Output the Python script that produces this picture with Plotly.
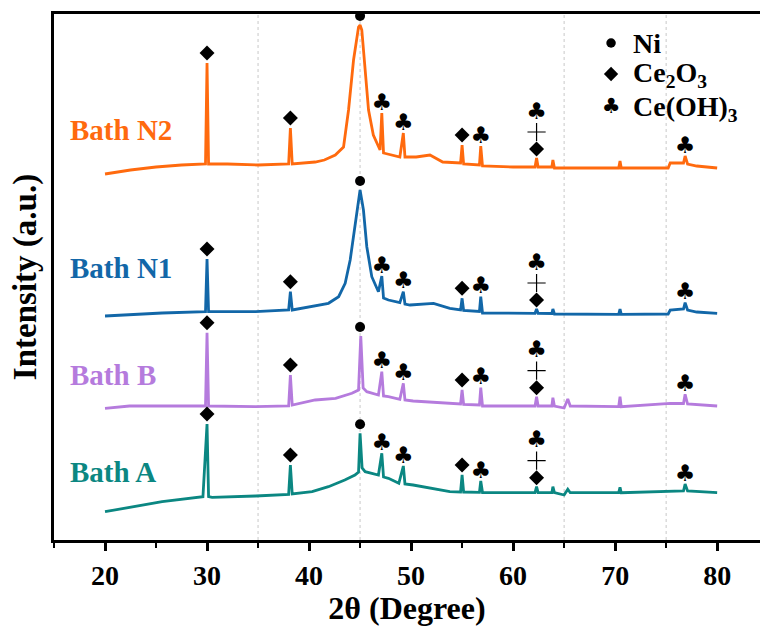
import numpy as np
import plotly.graph_objects as go

# ---------------- data (2theta in degrees, intensity in a.u., offset stacked) ----------------
x_n2 = [20, 22.5, 25, 27.5, 29.85, 30.0, 30.15, 32, 35, 38.0, 38.17, 38.35, 40.6, 41.5, 42.57,
        43.38, 43.87, 44.36, 44.85, 45.0, 45.17, 45.5, 45.83, 46.3, 46.96, 47.13, 47.3, 48.9,
        49.24, 49.4, 50.5, 51.85, 53.1, 54.85, 55.0, 55.15, 56.7, 56.83, 57.0, 60, 62.15, 62.3,
        62.45, 63.8, 63.9, 64.05, 70.35, 70.48, 70.6, 75.2, 75.4, 76.7, 76.86, 77.1, 78, 80]
y_n2 = [366, 370, 373, 375, 376, 477, 376, 376, 375, 376, 412, 376, 378, 380, 385,
        393, 430, 480, 513, 515, 510, 473, 430, 405, 390, 427, 387, 383,
        407, 383, 383, 385, 378, 377, 395, 376, 375, 394, 374, 373, 373, 382,
        373, 373, 380, 372, 372, 379, 372, 372, 377, 377, 384, 376, 374, 372]

x_n1 = [20, 25.6, 29.85, 30.0, 30.15, 34.75, 38.0, 38.17, 38.35, 40.3, 41.9, 42.9, 43.54, 44.03,
        44.52, 45.0, 45.33, 45.66, 46.15, 46.8, 47.13, 47.3, 47.78, 48.9, 49.24, 49.4, 49.9,
        52.2, 53.8, 54.85, 55.0, 55.15, 56.7, 56.83, 57.0, 62.15, 62.3, 62.45, 63.8, 63.9, 64.05,
        70.35, 70.48, 70.6, 75.2, 75.4, 76.7, 76.86, 77.1, 78, 80]
y_n1 = [224, 227, 228.3, 281, 228.3, 228.3, 230, 248.3, 230, 233.3, 236.7, 243.3, 256.7, 280,
        313.3, 350, 330, 293.3, 263.3, 248.3, 264, 242, 240, 237.3, 248.3, 236, 235,
        236.7, 231.7, 230, 241.7, 229.5, 228.5, 243.3, 227, 226.7, 231, 226.7, 226.5, 231, 226,
        225.7, 231, 225.7, 226, 230, 231, 237.3, 230, 228, 226.7]

x_b = [20, 22.4, 27.3, 29.85, 30.0, 30.15, 34.75, 38.0, 38.17, 38.35, 40.6, 42.6, 44.2, 44.85,
       45.07, 45.3, 45.66, 46.8, 47.13, 47.3, 47.78, 48.9, 49.24, 49.4, 50.2, 53.8, 54.85, 55.0,
       55.15, 56.7, 56.83, 57.0, 62.15, 62.3, 62.45, 63.8, 63.9, 64.05, 65.0, 65.36, 65.6,
       70.35, 70.48, 70.6, 75.2, 75.4, 76.7, 76.86, 77.1, 80]
y_b = [131.7, 134, 134, 134, 207.3, 134, 133.3, 134, 165, 135, 140, 141.7, 146.7, 150,
       204, 152, 148.3, 145, 168.3, 144, 143.3, 140.7, 156.7, 140, 139, 136.7, 136, 150,
       135.5, 135, 152.3, 134, 134, 143.3, 134, 134, 142.3, 134, 132, 141, 134,
       133.3, 143.3, 133.3, 136, 136.7, 136.5, 145.7, 136, 134]

x_a = [20, 22.4, 25.6, 29.6, 30.0, 30.15, 30.5, 34.75, 38.0, 38.17, 38.35, 40.3, 41.9, 43.5,
       44.5, 44.85, 45.0, 45.2, 45.5, 46.8, 47.13, 47.3, 47.78, 48.8, 49.24, 49.4, 50.2, 53.8,
       54.85, 55.0, 55.15, 56.7, 56.83, 57.0, 62.15, 62.3, 62.45, 63.8, 63.9, 64.05, 65.0,
       65.36, 65.6, 70.35, 70.48, 70.6, 76.7, 76.86, 77.1, 80]
y_a = [28.3, 32.7, 38.3, 43.3, 116, 43.5, 42.7, 44, 45.7, 75, 46, 48.3, 53.3, 60,
       65, 68, 106.7, 72, 68.3, 65, 86.7, 63, 61.7, 56.7, 74, 56, 55, 48.3,
       48, 65, 48, 47.7, 59, 47.5, 47.3, 53.3, 47.3, 47.3, 53.3, 47.3, 45,
       50.7, 47.3, 47.3, 52.7, 47.3, 49, 56, 49, 47.3]

sample_names = ["Bath N2", "Bath N1", "Bath B", "Bath A"]
sample_colors = ["#FF6A0E", "#1267A8", "#B57BDD", "#0B8782"]
sample_x = [x_n2, x_n1, x_b, x_a]
sample_y = [y_n2, y_n1, y_b, y_a]

# phase reflections (2theta)
ni_peaks = [45.0]
ce2o3_peaks = [30.0, 38.17, 55.0]
ceoh3_peaks = [47.13, 49.24, 56.83, 76.86]
mixed_peaks = [62.3]

legend_labels = ["Ni", "Ce<sub>2</sub>O<sub>3</sub>", "Ce(OH)<sub>3</sub>"]
x_ticks = [20, 30, 40, 50, 60, 70, 80]
guide_lines = [35, 45, 65, 75]

# ---------------- figure ----------------
FONT = "Times New Roman, Liberation Serif, Tinos, serif"
fig = go.Figure()

for xs, ys, c in zip(sample_x, sample_y, sample_colors):
    fig.add_trace(go.Scatter(x=xs, y=ys, mode="lines", line=dict(color=c, width=2.8),
                             showlegend=False, hoverinfo="skip"))


def peak_top(xs, ys, p):
    xs = np.asarray(xs); ys = np.asarray(ys)
    m = np.abs(xs - p) <= 0.3
    return float(ys[m].max()) if m.any() else float(np.interp(p, xs, ys))


circ_x, circ_y, dia_x, dia_y, club_x, club_y, plus_x, plus_y = [], [], [], [], [], [], [], []
for xs, ys in zip(sample_x, sample_y):
    for p in ni_peaks:
        circ_x.append(p); circ_y.append(peak_top(xs, ys, p) + 9)
    for p in ce2o3_peaks:
        dia_x.append(p); dia_y.append(peak_top(xs, ys, p) + 10)
    for p in ceoh3_peaks:
        club_x.append(p); club_y.append(peak_top(xs, ys, p) + 9)
    for p in mixed_peaks:
        t = peak_top(xs, ys, p)
        dia_x.append(p); dia_y.append(t + 9)
        plus_x.append(p); plus_y.append(t + 26)
        club_x.append(p); club_y.append(t + 45)

fig.add_trace(go.Scatter(x=circ_x, y=circ_y, mode="markers",
                         marker=dict(symbol="circle", size=10, color="black"),
                         showlegend=False, hoverinfo="skip"))
fig.add_trace(go.Scatter(x=dia_x, y=dia_y, mode="markers",
                         marker=dict(symbol="diamond", size=11.5, color="black"),
                         showlegend=False, hoverinfo="skip"))
fig.add_trace(go.Scatter(x=plus_x, y=plus_y, mode="markers",
                         marker=dict(symbol="cross-thin", size=13, color="black",
                                     line=dict(color="black", width=1.2)),
                         showlegend=False, hoverinfo="skip"))
fig.add_trace(go.Scatter(x=club_x, y=club_y, mode="text", text=["\u2663"] * len(club_x),
                         textposition="middle center",
                         textfont=dict(family="DejaVu Sans", size=23, color="black"),
                         showlegend=False, hoverinfo="skip"))

# legend (custom)
leg_sym_x = 69.6
leg_txt_x = 71.6
leg_y = [497, 466, 432]
fig.add_trace(go.Scatter(x=[leg_sym_x], y=[leg_y[0]], mode="markers",
                         marker=dict(symbol="circle", size=9.5, color="black"),
                         showlegend=False, hoverinfo="skip"))
fig.add_trace(go.Scatter(x=[leg_sym_x], y=[leg_y[1]], mode="markers",
                         marker=dict(symbol="diamond", size=11, color="black"),
                         showlegend=False, hoverinfo="skip"))
fig.add_trace(go.Scatter(x=[leg_sym_x], y=[leg_y[2]], mode="text", text=["\u2663"],
                         textposition="middle center",
                         textfont=dict(family="DejaVu Sans", size=21, color="black"),
                         showlegend=False, hoverinfo="skip"))
annotations = []
for lab, yy in zip(legend_labels, leg_y):
    annotations.append(dict(x=leg_txt_x, y=yy, xref="x", yref="y", text=lab, showarrow=False,
                            xanchor="left", yanchor="middle",
                            font=dict(family=FONT, size=28, color="black", weight="bold")))

# sample labels
label_y = [410, 272, 165, 68]
for name, c, yy in zip(sample_names, sample_colors, label_y):
    annotations.append(dict(x=16.4, y=yy, xref="x", yref="y", text=name, showarrow=False,
                            xanchor="left", yanchor="middle",
                            font=dict(family=FONT, size=29, color=c, weight="bold")))

shapes = [dict(type="line", x0=g, x1=g, y0=0, y1=1, xref="x", yref="paper",
               line=dict(color="#C8C8C8", width=1, dash="3px,3px"), layer="below")
          for g in guide_lines]

fig.update_layout(
    width=760, height=626,
    margin=dict(l=54, r=0, t=14, b=86),
    paper_bgcolor="white", plot_bgcolor="white",
    annotations=annotations, shapes=shapes,
    xaxis=dict(range=[15, 84.2], tickvals=x_ticks, ticks="outside", ticklen=8, tickwidth=2.5,
               tickcolor="black", showline=True, linewidth=3, linecolor="black", mirror=True,
               showgrid=False, zeroline=False,
               minor=dict(dtick=5, tick0=0, ticks="outside", ticklen=5, tickwidth=2,
                          tickcolor="black", showgrid=False),
               tickfont=dict(family=FONT, size=28, color="black", weight="bold"),
               title=dict(text="2\u03b8 (Degree)", standoff=6,
                          font=dict(family=FONT, size=32, color="black", weight="bold"))),
    yaxis=dict(range=[0, 526], showticklabels=False, ticks="", showline=True, linewidth=3,
               linecolor="black", mirror=False, showgrid=False, zeroline=False,
               title=dict(text="Intensity (a.u.)", standoff=5,
                          font=dict(family=FONT, size=33, color="black", weight="bold"))),
)

fig.write_html("out.html")
